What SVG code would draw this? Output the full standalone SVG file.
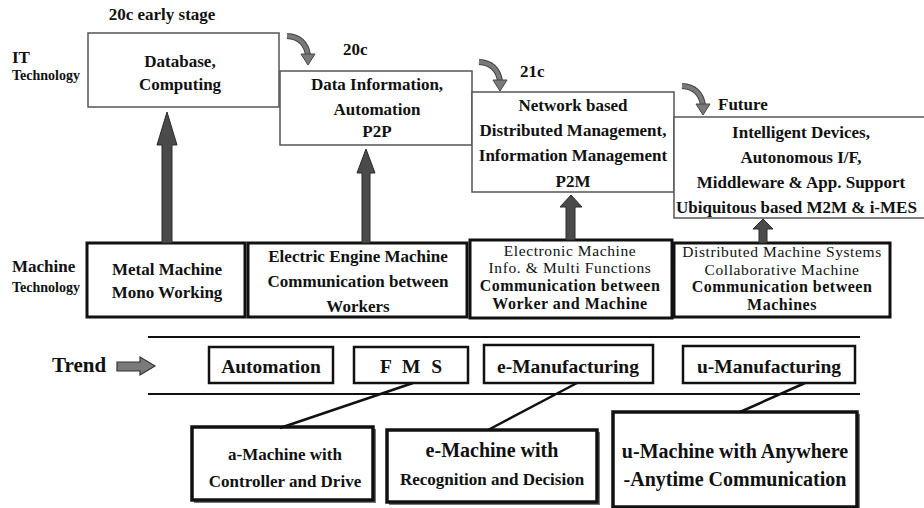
<svg xmlns="http://www.w3.org/2000/svg" width="924" height="508" viewBox="0 0 924 508" font-family="'Liberation Serif', 'DejaVu Serif', serif">
  <defs>
    <style>
      text { font-family: 'Liberation Serif', 'DejaVu Serif', serif; fill: #111; }
      .b { font-weight: bold; }
      .c { text-anchor: middle; }
      .t17 { font-size: 17px; }
      .t16 { font-size: 16px; font-weight: bold; letter-spacing: 0.5px; }
      .t17r { font-size: 15.5px; font-weight: normal; letter-spacing: 0.6px; }
      .t19 { font-size: 19.5px; font-weight: bold; }
      .it { fill: #fff; stroke: #555; stroke-width: 1.5; }
      .mach { fill: #fff; stroke: #111; stroke-width: 3; }
      .trend { fill: #fff; stroke: #111; stroke-width: 2.5; }
      .out { fill: #fff; stroke: #111; stroke-width: 3.5; }
      .shadow { fill: #777; }
      .up { fill: #4a4a4a; stroke: #2a2a2a; stroke-width: 1; }
      .rail { stroke: #111; stroke-width: 2; }
      .link { stroke: #111; stroke-width: 2.5; fill: none; }
    </style>
    <!-- curved "next era" arrow, origin at the tail -->
    <g id="bend">
      <path d="M0,0 Q18,1 21,19" fill="none" stroke="#444" stroke-width="6"/>
      <path d="M0,0 Q18,1 21,19" fill="none" stroke="#7a7a7a" stroke-width="4"/>
      <polygon points="14,18 28,18 21,29" fill="#7a7a7a" stroke="#444" stroke-width="1"/>
    </g>
  </defs>

  <rect width="924" height="508" fill="#fff"/>

  <!-- row labels -->
  <g id="labels">
    <text class="b" x="12" y="63" font-size="17">IT</text>
    <text class="b" x="12" y="80" font-size="14">Technology</text>
    <text class="b" x="12" y="272" font-size="17">Machine</text>
    <text class="b" x="12" y="292" font-size="14">Technology</text>
    <text class="b c t17" x="162" y="20">20c early stage</text>
    <text class="b t17" x="343" y="55">20c</text>
    <text class="b t17" x="520" y="77">21c</text>
    <text class="b t17" x="718" y="110">Future</text>
  </g>

  <!-- IT technology stages -->
  <g id="it-early">
    <rect class="it" x="88" y="33" width="191" height="74"/>
    <text class="b c t17" x="180" y="67">Database,</text>
    <text class="b c t17" x="180" y="90">Computing</text>
  </g>
  <g id="it-20c">
    <rect class="it" x="280" y="71" width="192" height="74"/>
    <text class="b c t17" x="377" y="90">Data Information,</text>
    <text class="b c t17" x="377" y="115">Automation</text>
    <text class="b c t17" x="377" y="137">P2P</text>
  </g>
  <g id="it-21c">
    <rect class="it" x="472" y="92" width="202" height="100"/>
    <text class="b c t17" x="573" y="111">Network based</text>
    <text class="b c t17" x="573" y="136">Distributed Management,</text>
    <text class="b c t17" x="573" y="161">Information Management</text>
    <text class="b c t17" x="573" y="187">P2M</text>
  </g>
  <g id="it-future">
    <rect class="it" x="674" y="117" width="260" height="101"/>
    <text class="b c t17" x="801" y="138">Intelligent Devices,</text>
    <text class="b c t17" x="801" y="163">Autonomous I/F,</text>
    <text class="b c t17" x="801" y="188">Middleware &amp; App. Support</text>
    <text class="b t17" x="676" y="213">Ubiquitous based M2M &amp; i-MES</text>
  </g>

  <!-- machine technology stages -->
  <g id="m-metal">
    <rect class="mach" x="87" y="243" width="158" height="74"/>
    <text class="b c t17" x="167" y="275">Metal Machine</text>
    <text class="b c t17" x="167" y="298">Mono Working</text>
  </g>
  <g id="m-electric">
    <rect class="mach" x="248" y="243" width="219" height="74"/>
    <text class="b c t17" x="358" y="262">Electric Engine Machine</text>
    <text class="b c t17" x="358" y="287">Communication between</text>
    <text class="b c t17" x="358" y="312">Workers</text>
  </g>
  <g id="m-electronic">
    <rect class="mach" x="470" y="240" width="202" height="78"/>
    <text class="c t17r" x="570" y="256">Electronic Machine</text>
    <text class="c t17r" x="570" y="273">Info. &amp; Multi Functions</text>
    <text class="c t16" x="570" y="291">Communication between</text>
    <text class="c t16" x="570" y="309">Worker and Machine</text>
  </g>
  <g id="m-distributed">
    <rect class="mach" x="674" y="243" width="216" height="74"/>
    <text class="c t17r" x="782" y="257">Distributed Machine Systems</text>
    <text class="c t17r" x="782" y="275">Collaborative Machine</text>
    <text class="c t16" x="782" y="292">Communication between</text>
    <text class="c t16" x="782" y="310">Machines</text>
  </g>

  <!-- trend band -->
  <g id="trend">
    <line class="rail" x1="148" y1="337" x2="860" y2="337"/>
    <line class="rail" x1="148" y1="394" x2="860" y2="394"/>
    <text class="b" x="52" y="372" font-size="21">Trend</text>
    <polygon points="117,362 140,362 140,357 155,366 140,375 140,371 117,371" fill="#7a7a7a" stroke="#333" stroke-width="1.2"/>
  </g>
  <g id="t-automation">
    <rect class="trend" x="209" y="347" width="124" height="36"/>
    <text class="c t19" x="271" y="373">Automation</text>
  </g>
  <g id="t-fms">
    <rect class="trend" x="354" y="347" width="114" height="36"/>
    <text class="c t19" x="411" y="373" word-spacing="6">F M S</text>
  </g>
  <g id="t-emanuf">
    <rect class="trend" x="484" y="345" width="169" height="38"/>
    <text class="c t19" x="568" y="373">e-Manufacturing</text>
  </g>
  <g id="t-umanuf">
    <rect class="trend" x="683" y="346" width="172" height="37"/>
    <text class="c t19" x="769" y="373">u-Manufacturing</text>
  </g>

  <!-- machine types -->
  <g id="a-machine">
    <rect class="shadow" x="194" y="429" width="182" height="74"/>
    <rect class="out" x="192" y="427" width="181" height="73"/>
    <text class="b c t17" x="285" y="460">a-Machine with</text>
    <text class="b c t17" x="285" y="487">Controller and Drive</text>
  </g>
  <g id="e-machine">
    <rect class="shadow" x="389" y="432" width="211" height="73"/>
    <rect class="out" x="387" y="430" width="210" height="72"/>
    <text class="b c" x="492" y="457" font-size="20">e-Machine with</text>
    <text class="b c t17" x="492" y="485">Recognition and Decision</text>
  </g>
  <g id="u-machine">
    <rect class="shadow" x="615" y="414" width="245" height="100"/>
    <rect class="out" x="613" y="412" width="244" height="95"/>
    <text class="b c" x="735" y="458" font-size="20">u-Machine with Anywhere</text>
    <text class="b c" x="735" y="486" font-size="20">-Anytime Communication</text>
  </g>

  <!-- connectors -->
  <g id="connectors">
    <use href="#bend" x="287" y="36"/>
    <use href="#bend" x="479" y="62"/>
    <use href="#bend" x="682" y="86"/>
    <polygon class="up" points="167,112 177,145 172,145 172,243 162,243 162,145 157,145"/>
    <polygon class="up" points="366,149 375,173 370,173 370,243 362,243 362,173 357,173"/>
    <polygon class="up" points="571,195 582,207 575,207 575,240 566,240 566,207 560,207"/>
    <polygon class="up" points="763,219 773,229 767,229 767,243 759,243 759,229 753,229"/>
    <line class="link" x1="413" y1="383" x2="280" y2="428"/>
    <line class="link" x1="577" y1="383" x2="488" y2="430"/>
    <line class="link" x1="805" y1="383" x2="740" y2="412"/>
  </g>
</svg>
